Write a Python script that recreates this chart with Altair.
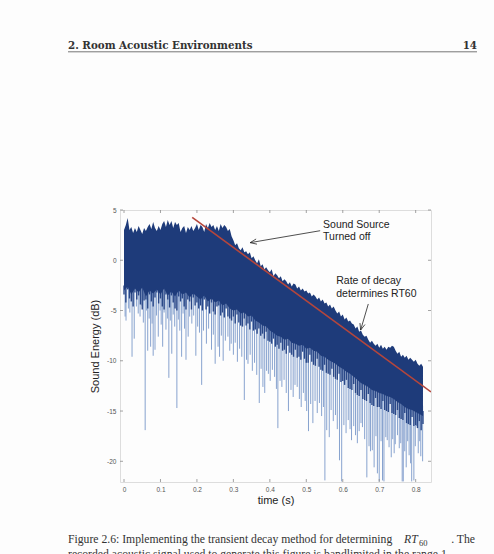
import altair as alt
import numpy as np
import pandas as pd

# ---------------- data ----------------
# upper envelope of the dense signal band, sampled every 5 ms from 0 to 0.82 s
env_t = [round(i * 0.005, 3) for i in range(165)]
env_upper = [
    3.0, 3.5, 4.2, 3.0, 3.3, 2.7, 3.2, 2.8, 3.4, 3.0,
    2.6, 3.2, 2.9, 3.3, 3.6, 3.1, 3.8, 3.2, 2.9, 3.4,
    3.0, 3.6, 3.9, 3.3, 4.0, 3.5, 3.9, 3.2, 3.8, 3.5,
    3.7, 2.8, 3.2, 3.4, 2.7, 3.3, 3.0, 3.4, 2.9, 3.2,
    3.6, 3.0, 3.5, 3.3, 2.8, 3.6, 3.2, 3.7, 3.3, 3.5,
    3.0, 3.4, 2.9, 3.6, 3.2, 3.5, 3.3, 2.9, 3.1, 2.4,
    2.0, 1.5, 1.7, 1.2, 1.0, 1.3, 0.8, 0.9, 0.6, 0.8,
    0.2, 0.4, 0.0, -0.3, 0.1, -0.6, -0.4, -0.9, -0.7, -1.0,
    -1.2, -0.9, -1.6, -1.3, -1.5, -1.8, -1.6, -2.1, -1.9, -2.1,
    -2.4, -2.2, -2.6, -2.3, -2.4, -2.8, -2.6, -3.0, -2.8, -3.1,
    -3.0, -3.3, -3.2, -3.6, -3.4, -3.6, -3.9, -3.7, -4.1, -3.9,
    -4.3, -4.2, -4.6, -4.4, -4.8, -4.6, -5.0, -5.3, -5.1, -5.6,
    -5.4, -5.9, -5.7, -6.1, -6.0, -6.3, -6.4, -6.8, -6.6, -7.1,
    -7.0, -7.4, -7.6, -7.5, -7.9, -8.2, -8.0, -8.3, -8.5, -8.3,
    -8.7, -8.4, -8.8, -8.6, -8.9, -8.6, -8.7, -8.5, -8.6, -9.0,
    -9.3, -9.1, -9.6, -9.4, -9.7, -9.5, -9.9, -9.7, -9.9, -10.1,
    -9.9, -10.3, -10.5, -10.3, -10.6,
]

# lower edge of the solid core of the band, every 10 ms
band_t = [round(i * 0.01, 2) for i in range(83)]
band_lower = [
    -3.0, -2.6, -3.4, -2.8, -3.2, -2.7, -3.6, -3.0, -3.3, -2.9,
    -3.4, -2.8, -3.5, -3.1, -3.6, -3.0, -3.4, -3.2, -3.7, -3.3,
    -3.6, -3.9, -3.5, -4.1, -3.8, -4.2, -4.0, -4.5, -4.3, -4.8,
    -5.0, -4.9, -5.3, -5.2, -5.6, -5.5, -6.0, -6.2, -6.5, -6.6,
    -7.0, -7.2, -7.5, -7.6, -7.9, -7.8, -8.2, -8.3, -8.5, -8.4,
    -8.8, -8.7, -9.0, -9.1, -9.5, -9.6, -9.9, -10.1, -10.3, -10.6,
    -10.8, -11.1, -11.3, -11.6, -11.9, -12.2, -12.4, -12.6, -12.9, -13.0,
    -13.2, -13.3, -13.5, -13.6, -13.8, -14.1, -14.3, -14.6, -14.8, -14.9,
    -15.1, -15.3, -15.5,
]

# ragged lower edge of the dense fringe, every 5 ms
fringe_lower = [
    -3.4, -4.2, -2.9, -3.8, -4.1, -4.6, -3.2, -3.9, -3.5, -4.4,
    -4.9, -4.0, -3.9, -4.8, -3.4, -4.1, -4.6, -3.7, -3.2, -4.3,
    -3.8, -4.6, -4.9, -3.4, -3.9, -4.7, -3.5, -4.2, -4.8, -5.0,
    -3.6, -4.1, -3.8, -4.6, -4.9, -3.9, -4.1, -4.9, -3.7, -4.5,
    -4.2, -4.8, -4.5, -5.0, -3.9, -4.9, -4.6, -5.3, -4.2, -5.1,
    -5.4, -4.6, -4.5, -5.5, -5.2, -5.7, -4.8, -5.6, -5.8, -6.0,
    -5.6, -6.3, -5.4, -6.2, -6.5, -6.6, -5.8, -6.5, -6.3, -6.9,
    -6.1, -7.0, -6.9, -7.3, -6.8, -7.5, -7.3, -7.8, -7.1, -8.0,
    -8.1, -8.3, -7.8, -8.6, -8.4, -8.8, -8.2, -9.0, -8.9, -9.3,
    -8.5, -9.2, -9.4, -9.6, -8.9, -9.7, -9.6, -9.9, -9.1, -9.8,
    -10.2, -10.2, -9.4, -10.1, -10.4, -10.5, -9.8, -10.6, -10.9, -11.0,
    -10.4, -11.2, -11.3, -11.4, -10.8, -11.6, -11.8, -11.9, -11.3, -12.1,
    -12.0, -12.4, -11.9, -12.7, -12.8, -12.9, -12.3, -13.2, -13.4, -13.5,
    -12.9, -13.8, -13.9, -14.0, -13.3, -14.2, -14.4, -14.5, -13.7, -14.6,
    -14.6, -14.8, -14.0, -14.9, -15.0, -15.1, -14.3, -15.2, -15.3, -15.4,
    -14.9, -15.7, -15.8, -15.9, -15.2, -16.2, -16.3, -16.4, -15.6, -16.5,
    -16.4, -16.7, -16.0, -16.9, -16.3,
]

# downward spikes (time, lowest dB)
spike_t = [
    0.003, 0.0055, 0.012, 0.016, 0.022, 0.028, 0.034, 0.039, 0.044, 0.049,
    0.053, 0.058, 0.062, 0.065, 0.069, 0.073, 0.077, 0.080, 0.085, 0.089,
    0.094, 0.099, 0.102, 0.106, 0.110, 0.115, 0.119, 0.123, 0.127, 0.131,
    0.135, 0.139, 0.145, 0.149, 0.153, 0.158, 0.162, 0.166, 0.170, 0.176,
    0.180, 0.186, 0.191, 0.197, 0.202, 0.207, 0.213, 0.218, 0.226, 0.232,
    0.240, 0.245, 0.250, 0.258, 0.262, 0.267, 0.272, 0.278, 0.285, 0.290,
    0.294, 0.300, 0.305, 0.311, 0.317, 0.323, 0.330, 0.336, 0.340, 0.346,
    0.352, 0.358, 0.364, 0.371, 0.376, 0.381, 0.386, 0.391, 0.396, 0.401,
    0.407, 0.413, 0.418, 0.422, 0.428, 0.433, 0.439, 0.445, 0.451, 0.458,
    0.464, 0.469, 0.475, 0.481, 0.486, 0.492, 0.497, 0.501, 0.506, 0.512,
    0.518, 0.524, 0.530, 0.536, 0.542, 0.547, 0.551, 0.556, 0.563, 0.568,
    0.574, 0.580, 0.585, 0.591, 0.597, 0.603, 0.609, 0.615, 0.620, 0.624,
    0.630, 0.635, 0.640, 0.645, 0.650, 0.654, 0.660, 0.666, 0.672, 0.676,
    0.681, 0.686, 0.691, 0.695, 0.700, 0.705, 0.709, 0.713, 0.718, 0.722,
    0.727, 0.733, 0.737, 0.741, 0.744, 0.750, 0.755, 0.759, 0.763, 0.766,
    0.770, 0.774, 0.778, 0.782, 0.786, 0.789, 0.795, 0.799, 0.802, 0.807,
    0.811, 0.814, 0.819,
]
spike_db = [
    -5.6, -6.0, -4.8, -5.2, -9.6, -7.8, -4.6, -5.3, -5.6, -4.5,
    -6.2, -16.9, -5.0, -9.0, -5.8, -8.6, -6.3, -9.5, -8.9, -5.5,
    -7.6, -5.0, -6.4, -8.6, -5.2, -6.9, -5.8, -11.7, -6.0, -9.3,
    -5.4, -6.6, -14.7, -5.9, -7.0, -9.6, -5.3, -6.8, -9.9, -7.6,
    -5.6, -6.3, -5.5, -9.5, -6.6, -7.2, -12.4, -7.0, -8.3, -6.8,
    -8.9, -7.4, -10.3, -8.6, -9.6, -7.5, -10.0, -8.0, -7.6, -9.0,
    -8.3, -9.4, -8.2, -10.1, -8.8, -9.6, -13.9, -9.9, -10.3, -9.4,
    -11.0, -10.2, -11.4, -14.2, -10.8, -12.6, -13.2, -11.0, -11.3, -12.0,
    -10.9, -11.6, -12.8, -16.7, -12.0, -12.6, -11.9, -13.2, -15.0, -12.9,
    -13.6, -12.4, -12.6, -13.8, -14.6, -13.2, -14.0, -15.0, -17.0, -14.3,
    -16.2, -14.0, -15.2, -14.2, -15.5, -14.6, -21.9, -16.9, -17.6, -14.9,
    -16.0, -15.4, -16.8, -19.9, -22.0, -16.4, -17.2, -15.9, -16.8, -17.9,
    -16.5, -17.4, -18.2, -17.0, -16.2, -16.6, -17.8, -21.6, -18.5, -19.0,
    -18.9, -20.6, -17.5, -21.2, -22.0, -18.0, -21.9, -22.0, -17.6, -17.9,
    -18.6, -19.6, -17.8, -19.2, -18.3, -17.4, -18.7, -18.2, -22.0, -22.0,
    -19.0, -20.6, -18.0, -19.4, -20.2, -22.0, -21.9, -18.5, -16.5, -19.2,
    -18.0, -19.5, -20.0,
]

# fitted decay line
fit_t = [0.187, 0.842]
fit_db = [4.27, -13.1]

# annotations
note_t = [0.546, 0.546, 0.582, 0.582]
note_db = [3.5, 2.3, -2.1, -3.35]
note_text = ["Sound Source", "Turned off", "Rate of decay", "determines RT60"]
arrow_tail_t = [0.538, 0.670]
arrow_tail_db = [2.94, -4.35]
arrow_tip_t = [0.346, 0.649]
arrow_tip_db = [1.75, -6.94]

x_ticks = [0, 0.1, 0.2, 0.3, 0.4, 0.5, 0.6, 0.7, 0.8]
y_ticks = [-20, -15, -10, -5, 0, 5]

header_left = "2. Room Acoustic Environments"
header_right = "14"
caption_1a = "Figure 2.6: Implementing the transient decay method for determining"
caption_1b = "RT"
caption_1c = "60"
caption_1d = ". The"
caption_2 = "recorded acoustic signal used to generate this figure is bandlimited in the range 1 \u2013"

# ---------------- layout ----------------
W, H = 311, 272
X_DOM = [-0.011, 0.842]
Y_DOM = [-22.06, 5]
NAVY = "#1e3b7a"
FRINGE = "#2a4888"
LIGHT = "#7b98c9"
FONT = "Liberation Sans"

xs = alt.Scale(domain=X_DOM, nice=False, zero=False)
ys = alt.Scale(domain=Y_DOM, nice=False, zero=False)
x_axis = alt.Axis(values=x_ticks, title="time (s)", ticks=False, domain=False, grid=False,
                  labelExpr="datum.value == 0 ? '0' : format(datum.value, '.1f')",
                  labelFontSize=6.5, labelColor="#555555", labelPadding=4,
                  titleFontSize=11, titleFontWeight="normal", titleColor="#222222",
                  titlePadding=2, labelFont=FONT, titleFont=FONT)
y_axis = alt.Axis(values=y_ticks, title="Sound Energy (dB)", ticks=False, domain=False, grid=False,
                  labelExpr="datum.value + ''",
                  labelFontSize=6.5, labelColor="#555555", labelPadding=4,
                  titleFontSize=11, titleFontWeight="normal", titleColor="#222222",
                  titlePadding=6, labelFont=FONT, titleFont=FONT)


def X(field="t"):
    return alt.X(f"{field}:Q", scale=xs, axis=x_axis)


def Y(field="db"):
    return alt.Y(f"{field}:Q", scale=ys, axis=y_axis)


core_lower = np.interp(env_t, band_t, band_lower)

# solid core of the band
band_df = pd.DataFrame({"t": env_t, "db": env_upper, "db2": core_lower})
band = alt.Chart(band_df).mark_area(color=NAVY, clip=True, interpolate="linear").encode(
    x=X(), y=Y(), y2="db2:Q")

# ragged fringe below the core, one stroke per sample
fringe_df = pd.DataFrame({"t": env_t, "db": core_lower + 0.5, "db2": fringe_lower})
fringe = alt.Chart(fringe_df).mark_rule(color=FRINGE, strokeWidth=1.4, clip=True).encode(
    x=X(), y=Y(), y2="db2:Q")

# spikes
spike_df = pd.DataFrame({
    "t": spike_t,
    "db": np.interp(spike_t, band_t, band_lower) + 1.0,
    "db2": spike_db,
})
spikes = alt.Chart(spike_df).mark_rule(color=LIGHT, strokeWidth=0.9, clip=True).encode(
    x=X(), y=Y(), y2="db2:Q")

# decay fit
fit_df = pd.DataFrame({"t": fit_t, "db": fit_db})
fit = alt.Chart(fit_df).mark_line(color="#b5463c", strokeWidth=1.6, clip=True).encode(x=X(), y=Y())

# arrows
px_t = W / (X_DOM[1] - X_DOM[0])
px_db = H / (Y_DOM[1] - Y_DOM[0])
segs = []
for tt, td, pt, pd_ in zip(arrow_tail_t, arrow_tail_db, arrow_tip_t, arrow_tip_db):
    segs.append({"t": tt, "db": td, "t2": pt, "db2": pd_})
    dx = (tt - pt) * px_t
    dy = (td - pd_) * px_db
    n = np.hypot(dx, dy)
    ux, uy = dx / n, dy / n
    for a in (np.radians(22), -np.radians(22)):
        rx = ux * np.cos(a) - uy * np.sin(a)
        ry = ux * np.sin(a) + uy * np.cos(a)
        segs.append({"t": pt, "db": pd_, "t2": pt + 7 * rx / px_t, "db2": pd_ + 7 * ry / px_db})
arrows = alt.Chart(pd.DataFrame(segs)).mark_rule(color="#222222", strokeWidth=0.8).encode(
    x=X(), y=Y(), x2="t2:Q", y2="db2:Q")

notes = alt.Chart(pd.DataFrame({"t": note_t, "db": note_db, "label": note_text})).mark_text(
    align="left", baseline="middle", font=FONT, fontSize=10.5, color="#222222").encode(
    x=X(), y=Y(), text="label:N")

# inward tick marks on all four sides
xt_df = pd.DataFrame({"t": x_ticks})
yt_df = pd.DataFrame({"db": y_ticks})
TICK = "#8c8c8c"
xt_bot = alt.Chart(xt_df).mark_rule(color=TICK, strokeWidth=0.8).encode(
    x=X(), y=alt.value(H), y2=alt.value(H - 3))
xt_top = alt.Chart(xt_df).mark_rule(color=TICK, strokeWidth=0.8).encode(
    x=X(), y=alt.value(0), y2=alt.value(3))
yt_left = alt.Chart(yt_df).mark_rule(color=TICK, strokeWidth=0.8).encode(
    y=Y(), x=alt.value(0), x2=alt.value(3))
yt_right = alt.Chart(yt_df).mark_rule(color=TICK, strokeWidth=0.8).encode(
    y=Y(), x=alt.value(W), x2=alt.value(W - 3))

# page header and caption (positions relative to plot origin at 120,210)
OX, OY = 120, 210
hdr_l = alt.Chart(pd.DataFrame({"label": [header_left]})).mark_text(
    align="left", baseline="alphabetic", font="DejaVu Serif", fontWeight="bold", fontSize=10.3,
    color="#333333").encode(x=alt.value(68 - OX), y=alt.value(48.5 - OY), text="label:N")
hdr_r = alt.Chart(pd.DataFrame({"label": [header_right]})).mark_text(
    align="right", baseline="alphabetic", font="DejaVu Serif", fontWeight="bold", fontSize=10.3,
    color="#333333").encode(x=alt.value(477 - OX), y=alt.value(48.5 - OY), text="label:N")
hdr_rule = alt.Chart(pd.DataFrame({"label": ["rule"]})).mark_rule(color="#555555", strokeWidth=0.8).encode(
    x=alt.value(68 - OX), x2=alt.value(477 - OX), y=alt.value(51.8 - OY))

CAP_FONT = "Liberation Serif"
CAP_SIZE = 11.7
cap_a = alt.Chart(pd.DataFrame({"label": [caption_1a]})).mark_text(
    align="left", baseline="alphabetic", font=CAP_FONT, fontSize=CAP_SIZE, color="#333333").encode(
    x=alt.value(68 - OX), y=alt.value(543 - OY), text="label:N")
cap_b = alt.Chart(pd.DataFrame({"label": [caption_1b]})).mark_text(
    align="left", baseline="alphabetic", font=CAP_FONT, fontStyle="italic", fontSize=CAP_SIZE,
    color="#333333").encode(x=alt.value(404 - OX), y=alt.value(543 - OY), text="label:N")
cap_c = alt.Chart(pd.DataFrame({"label": [caption_1c]})).mark_text(
    align="left", baseline="alphabetic", font=CAP_FONT, fontSize=8.5, color="#333333").encode(
    x=alt.value(419 - OX), y=alt.value(545.5 - OY), text="label:N")
cap_d = alt.Chart(pd.DataFrame({"label": [caption_1d]})).mark_text(
    align="right", baseline="alphabetic", font=CAP_FONT, fontSize=CAP_SIZE, color="#333333").encode(
    x=alt.value(475 - OX), y=alt.value(543 - OY), text="label:N")
cap_2 = alt.Chart(pd.DataFrame({"label": [caption_2]})).mark_text(
    align="left", baseline="alphabetic", font=CAP_FONT, fontSize=CAP_SIZE, color="#333333").encode(
    x=alt.value(68 - OX), y=alt.value(558 - OY), text="label:N")

chart = alt.layer(
    spikes, fringe, band, fit, arrows, notes, xt_bot, xt_top, yt_left, yt_right,
    hdr_l, hdr_r, hdr_rule, cap_a, cap_b, cap_c, cap_d, cap_2,
).properties(
    width=W, height=H,
    padding={"left": OX, "top": OY, "right": 494 - OX - W, "bottom": 554 - OY - H},
    autosize=alt.AutoSizeParams(type="none"),
    background="#fdfdfd",
).configure_view(stroke="#8c8c8c", strokeWidth=1, fill="white").configure(font=FONT)

chart.save("out.html", embed_options={"renderer": "svg", "actions": False})
